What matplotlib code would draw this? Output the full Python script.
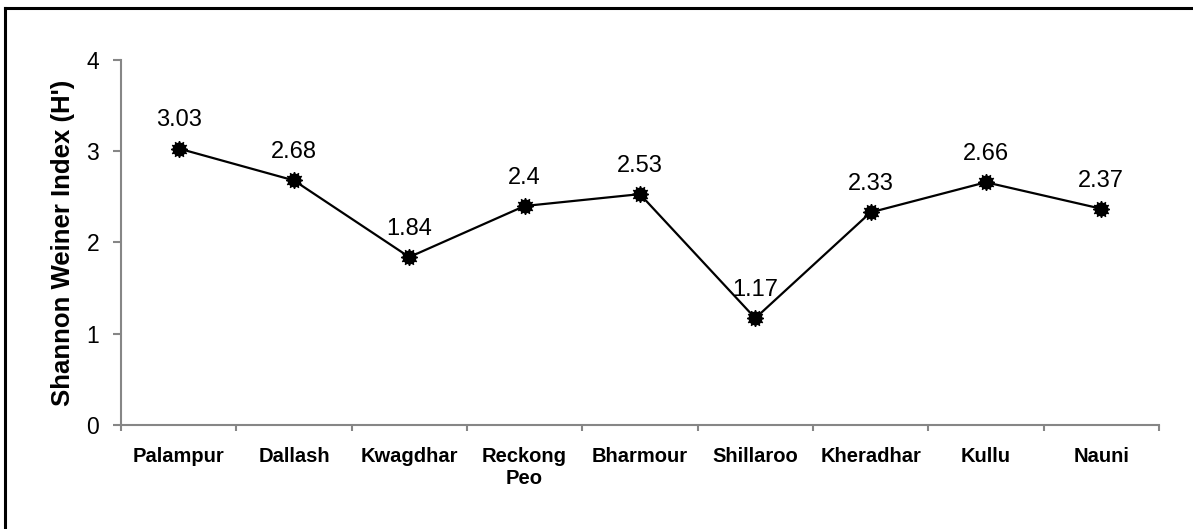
import matplotlib
matplotlib.use('Agg')
import matplotlib.pyplot as plt
from matplotlib.lines import Line2D

sites = ["Palampur", "Dallash", "Kwagdhar", "Reckong\nPeo", "Bharmour",
         "Shillaroo", "Kheradhar", "Kullu", "Nauni"]
shannon = [3.03, 2.68, 1.84, 2.4, 2.53, 1.17, 2.33, 2.66, 2.37]
yticks = [0, 1, 2, 3, 4]

plt.rcParams['font.family'] = ['Liberation Sans', 'DejaVu Sans']

fig = plt.figure(figsize=(11.93, 5.29), dpi=100)
ax = fig.add_axes([0.1014, 0.1966, 0.870, 0.690])

x = list(range(len(sites)))
ax.plot(x, shannon, color='black', linewidth=1.6, marker='o', markersize=9,
        markerfacecolor='black', markeredgecolor='black', zorder=3)
ax.plot(x, shannon, linestyle='none', marker=(12, 1, 0), markersize=12,
        color='black', zorder=3)

for xi, v in zip(x, shannon):
    ax.annotate(f"{v:g}", (xi, v), xytext=(0, 16), textcoords='offset points',
                ha='center', va='baseline', fontsize=17)

ax.set_xlim(-0.5, len(sites) - 0.5)
ax.set_ylim(0, 4)
ax.set_yticks(yticks)
ax.set_yticklabels([str(t) for t in yticks], fontsize=16.5)

# category labels between boundary ticks
ax.set_xticks([i - 0.5 for i in range(len(sites) + 1)])
ax.set_xticklabels([])
ax.set_xticks(x, minor=True)
ax.set_xticklabels(sites, minor=True, fontsize=14.5, fontweight='bold',
                   linespacing=1.2)
ax.tick_params(axis='x', which='minor', length=0, pad=16)
ax.tick_params(axis='x', which='major', length=4.3, width=1.5, color='#868686',
               direction='out')
ax.tick_params(axis='y', length=5.8, width=1.5, color='#868686', pad=10)

for side in ['top', 'right']:
    ax.spines[side].set_visible(False)
for side in ['left', 'bottom']:
    ax.spines[side].set_color('#868686')
    ax.spines[side].set_linewidth(1.5)

ax.set_ylabel("Shannon Weiner Index (H')", fontsize=18.5, fontweight='bold',
              labelpad=8)

# outer frame (top and left edges visible)
fig.add_artist(Line2D([0.0045, 1.0], [0.984, 0.984], color='black',
                      linewidth=2.2, transform=fig.transFigure))
fig.add_artist(Line2D([0.0045, 0.0045], [0.0, 0.984], color='black',
                      linewidth=2.2, transform=fig.transFigure))

fig.savefig('out.png', dpi=100)
